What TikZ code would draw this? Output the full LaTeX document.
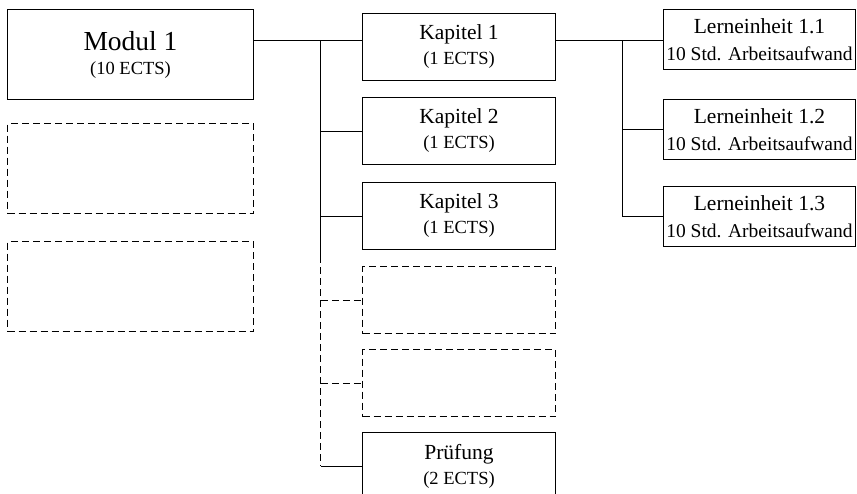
\documentclass[tikz,border=0pt]{standalone}
\usepackage{fontspec}
\setmainfont{Liberation Serif}
\usetikzlibrary{positioning, calc}

\begin{document}
\begin{tikzpicture}[x=1pt, y=-1pt, line width=1pt,
    modbox/.style={rectangle, draw, minimum width=246pt, minimum height=90pt,
                inner sep=0pt, align=center, font=\fontsize{18.5}{24}\selectfont},
    kapbox/.style={rectangle, draw, minimum width=193pt, minimum height=67pt,
                inner sep=0pt, align=center, font=\fontsize{18.5}{25}\selectfont},
    lebox/.style={rectangle, draw, minimum width=192pt, minimum height=60pt,
                inner sep=0pt, align=center, font=\fontsize{19.5}{27}\selectfont},
    leer/.style={dash pattern=on 7pt off 4pt}]

    \useasboundingbox (0,0) rectangle (857,493);
    \clip (0,0) rectangle (857,493);

    % Modul
    \node[modbox, anchor=north west] (modul) at (7,9)
        {{\fontsize{27.5}{24}\selectfont Modul 1}\\(10 ECTS)};
    \node[modbox, leer, below=23pt of modul] (leer1) {};
    \node[modbox, leer, below=27pt of leer1] (leer2) {};

    % Kapitel
    \node[kapbox, anchor=north west] (k1) at (362,13)
        {{\fontsize{21.5}{25}\selectfont Kapitel 1}\\(1 ECTS)};
    \node[kapbox, below=16pt of k1] (k2)
        {{\fontsize{21.5}{25}\selectfont Kapitel 2}\\(1 ECTS)};
    \node[kapbox, below=17pt of k2] (k3)
        {{\fontsize{21.5}{25}\selectfont Kapitel 3}\\(1 ECTS)};
    \node[kapbox, leer, below=16pt of k3] (leer3) {};
    \node[kapbox, leer, below=15pt of leer3] (leer4) {};
    \node[kapbox, below=15pt of leer4] (pruef)
        {{\fontsize{21.5}{25}\selectfont Prüfung}\\(2 ECTS)};

    % Lerneinheiten
    \node[lebox, anchor=north west] (l1) at (663,9)
        {{\fontsize{21.5}{27}\selectfont Lerneinheit 1.1}\\10 Std. Arbeitsaufwand};
    \node[lebox, below=29pt of l1] (l2)
        {{\fontsize{21.5}{27}\selectfont Lerneinheit 1.2}\\10 Std. Arbeitsaufwand};
    \node[lebox, below=26pt of l2] (l3)
        {{\fontsize{21.5}{27}\selectfont Lerneinheit 1.3}\\10 Std. Arbeitsaufwand};

    \coordinate (mk) at ($(k1.north west)!0.4!(k1.south west)$);
    \coordinate (abzw) at ($(modul.east |- mk)!0.62!(mk)$);
    \coordinate (lab) at ($(k1.east |- mk)!0.62!(l1.west |- mk)$);
    \coordinate (ende) at ([yshift=10pt]abzw |- leer3.north);

    \draw (modul.east |- mk) -- (mk);
    \draw (abzw) |- (k2.west);
    \draw (abzw) |- (k3.west);
    \draw (abzw) -- (ende);
    \draw[leer] (ende) -- (abzw |- pruef.west);
    \draw[leer] (abzw |- leer3.west) -- (leer3.west);
    \draw[leer] (abzw |- leer4.west) -- (leer4.west);
    \draw (abzw |- pruef.west) -- (pruef.west);

    \draw (k1.east |- mk) -- (l1.west |- mk);
    \draw (lab) |- (l2.west);
    \draw (lab) |- (l3.west);
\end{tikzpicture}
\end{document}
